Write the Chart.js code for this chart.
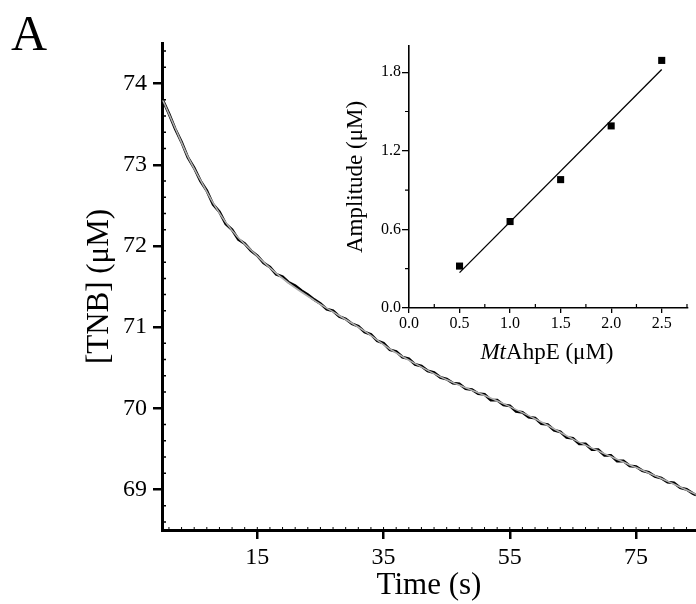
<!DOCTYPE html>
<html>
<head>
<meta charset="utf-8">
<script src="https://cdn.jsdelivr.net/npm/chart.js@4.4.0/dist/chart.umd.min.js"></script>
<style>
  html, body { margin: 0; padding: 0; background: #fff; }
  #wrap { position: relative; width: 696px; height: 604px; overflow: hidden; font-family: "Liberation Serif", "DejaVu Serif", serif; color: #000; }
  #mainChart { position: absolute; left: 0; top: 0; }
  #insetChart { position: absolute; left: 330px; top: 30px; }
  #panel { position: absolute; left: 11px; top: 8px; font-size: 50px; line-height: 50px; }
  #insetXTitle { position: absolute; left: 547px; top: 340px; font-size: 23px; line-height: 23px; transform: translateX(-50%); white-space: nowrap; }
</style>
</head>
<body>
<div id="wrap">
  <canvas id="mainChart" width="696" height="604"></canvas>
  <canvas id="insetChart" width="366" height="345"></canvas>
  <div id="panel">A</div>
  <div id="insetXTitle"><i>Mt</i>AhpE (μM)</div>
</div>
<script>
// main trace: TNB vs time
const timeS = [0, 1, 2, 3, 4, 5, 6, 7, 8, 9, 10, 11, 12, 13, 14, 15, 16, 17, 18, 19,
    20, 21, 22, 23, 24, 25, 26, 27, 28, 29, 30, 31, 32, 33, 34, 35, 36, 37, 38, 39,
    40, 41, 42, 43, 44, 45, 46, 47, 48, 49, 50, 51, 52, 53, 54, 55, 56, 57, 58, 59,
    60, 61, 62, 63, 64, 65, 66, 67, 68, 69, 70, 71, 72, 73, 74, 75, 76, 77, 78, 79,
    80, 81, 82, 83, 84, 84.5];
const tnbTrace = [73.80, 73.63, 73.44, 73.28, 73.09, 72.96, 72.80, 72.68, 72.51, 72.42,
    72.27, 72.20, 72.08, 72.03, 71.94, 71.88, 71.79, 71.74, 71.65, 71.62,
    71.55, 71.51, 71.45, 71.40, 71.34, 71.29, 71.22, 71.20, 71.13, 71.10,
    71.04, 71.01, 70.94, 70.91, 70.83, 70.80, 70.72, 70.70, 70.63, 70.61,
    70.54, 70.52, 70.46, 70.44, 70.38, 70.36, 70.31, 70.30, 70.24, 70.23,
    70.18, 70.17, 70.10, 70.10, 70.04, 70.03, 69.96, 69.95, 69.89, 69.88,
    69.81, 69.80, 69.73, 69.71, 69.64, 69.63, 69.56, 69.56, 69.49, 69.49,
    69.42, 69.42, 69.35, 69.35, 69.29, 69.28, 69.23, 69.21, 69.16, 69.14,
    69.09, 69.08, 69.02, 69.00, 68.95, 68.93];

// fitted curve (grey)
const fitTimes = [0, 2, 4, 6, 8, 10, 12, 14, 17, 20, 24, 28, 32, 36, 40, 45, 50, 55, 60, 65, 70, 75, 80, 84.5];
const tnbFit = [73.80, 73.45, 73.10, 72.81, 72.53, 72.29, 72.10, 71.95, 71.73, 71.54, 71.33, 71.14,
    70.95, 70.73, 70.55, 70.35, 70.19, 70.02, 69.83, 69.62, 69.44, 69.27, 69.10, 68.94];

const xTickValues = [15, 35, 55, 75];
const yTickValues = [69, 70, 71, 72, 73, 74];

// inset: amplitude vs enzyme
const enzymeConc = [0.5, 1.0, 1.5, 2.0, 2.5];
const amplitude = [0.32, 0.66, 0.98, 1.39, 1.89];
const fitLineX = [0.5, 2.5];
const fitLineY = [0.27, 1.82];
const insetXTicks = [0, 0.5, 1.0, 1.5, 2.0, 2.5];
const insetYTicks = [0, 0.6, 1.2, 1.8];

const serif = '"Liberation Serif", "DejaVu Serif", serif';

// minor tick marks, drawn from the scales
const minorTickPlugin = {
    id: 'minorTicks',
    afterDraw(chart, args, opts) {
        const ctx = chart.ctx;
        const area = chart.chartArea;
        ctx.save();
        ctx.strokeStyle = '#000';
        (opts.axes || []).forEach(a => {
            const scale = chart.scales[a.id];
            ctx.lineWidth = a.width;
            ctx.beginPath();
            a.values.forEach(v => {
                const p = scale.getPixelForValue(v);
                if (scale.isHorizontal()) {
                    ctx.moveTo(p, area.bottom);
                    ctx.lineTo(p, area.bottom + a.dir * a.len);
                } else {
                    ctx.moveTo(area.left, p);
                    ctx.lineTo(area.left + a.dir * a.len, p);
                }
            });
            ctx.stroke();
        });
        ctx.restore();
    }
};

function range(start, end, step, skipStep) {
    const out = [];
    for (let v = start; v <= end + 1e-9; v += step) {
        const r = Math.round(v * 1000) / 1000;
        if (skipStep && Math.abs(r / skipStep - Math.round(r / skipStep)) < 1e-6) continue;
        out.push(r);
    }
    return out;
}

// main chart
new Chart(document.getElementById('mainChart'), {
    type: 'scatter',
    data: {
        datasets: [
            {
                label: 'fit',
                data: fitTimes.map((t, i) => ({ x: t, y: tnbFit[i] })),
                showLine: true,
                borderColor: '#b0b0b0',
                borderWidth: 1.6,
                pointRadius: 0,
                cubicInterpolationMode: 'monotone',
                order: 0
            },
            {
                label: 'trace',
                data: timeS.map((t, i) => ({ x: t, y: tnbTrace[i] })),
                showLine: true,
                borderColor: '#000',
                borderWidth: 2.8,
                pointRadius: 0,
                order: 1
            }
        ]
    },
    options: {
        responsive: false,
        animation: false,
        devicePixelRatio: 1,
        layout: { padding: { top: 43, right: 0, bottom: 0, left: 0 } },
        plugins: {
            legend: { display: false },
            tooltip: { enabled: false },
            minorTicks: {
                axes: [
                    { id: 'x', values: range(1, 84, 2), dir: -1, len: 3, width: 1 },
                    { id: 'y', values: range(68.6, 74.4, 0.2, 1), dir: 1, len: 4, width: 1.5 }
                ]
            }
        },
        scales: {
            x: {
                type: 'linear',
                min: -0.1,
                max: 84.5,
                afterBuildTicks: s => { s.ticks = xTickValues.map(v => ({ value: v })); },
                afterFit: s => { s.height = 74; s.paddingLeft = 0; s.paddingRight = 0; },
                border: { color: '#000', width: 3 },
                grid: { drawOnChartArea: false, drawTicks: true, tickLength: 9, color: '#000', lineWidth: 2.5 },
                ticks: { color: '#000', font: { family: serif, size: 24 }, padding: 4, maxRotation: 0, autoSkip: false },
                title: { display: true, text: 'Time (s)', color: '#000', font: { family: serif, size: 31 }, padding: { top: 0, bottom: 0 } }
            },
            y: {
                type: 'linear',
                min: 68.5,
                max: 74.5,
                afterBuildTicks: s => { s.ticks = yTickValues.map(v => ({ value: v })); },
                afterFit: s => { s.width = 162; s.paddingTop = 0; s.paddingBottom = 0; },
                border: { color: '#000', width: 3 },
                grid: { drawOnChartArea: false, drawTicks: true, tickLength: 9, color: '#000', lineWidth: 2.5 },
                ticks: { color: '#000', font: { family: serif, size: 24 }, padding: 6 },
                title: { display: true, text: '[TNB] (μM)', color: '#000', font: { family: serif, size: 31 }, padding: { top: 81, bottom: 0 } }
            }
        }
    },
    plugins: [minorTickPlugin]
});

// inset chart
new Chart(document.getElementById('insetChart'), {
    type: 'scatter',
    data: {
        datasets: [
            {
                label: 'amplitude',
                data: enzymeConc.map((c, i) => ({ x: c, y: amplitude[i] })),
                pointStyle: 'rect',
                pointRadius: 5,
                backgroundColor: '#000',
                borderColor: '#000',
                borderWidth: 0
            },
            {
                label: 'linear fit',
                data: fitLineX.map((c, i) => ({ x: c, y: fitLineY[i] })),
                showLine: true,
                borderColor: '#000',
                borderWidth: 1.3,
                pointRadius: 0
            }
        ]
    },
    options: {
        responsive: false,
        animation: false,
        devicePixelRatio: 1,
        layout: { padding: { top: 16, right: 8, bottom: 0, left: 0 } },
        plugins: {
            legend: { display: false },
            tooltip: { enabled: false },
            minorTicks: {
                axes: [
                    { id: 'x', values: range(0.25, 2.75, 0.5), dir: -1, len: 4, width: 1.2 },
                    { id: 'y', values: [0.3, 0.9, 1.5], dir: -1, len: 4, width: 1.2 }
                ]
            }
        },
        scales: {
            x: {
                type: 'linear',
                min: 0,
                max: 2.76,
                afterBuildTicks: s => { s.ticks = insetXTicks.map(v => ({ value: v })); },
                afterFit: s => { s.height = 67; s.paddingLeft = 0; s.paddingRight = 0; },
                border: { color: '#000', width: 1.6 },
                grid: { drawOnChartArea: false, drawTicks: true, tickLength: 5, color: '#000', lineWidth: 1.3 },
                ticks: { color: '#000', font: { family: serif, size: 16 }, padding: 1, maxRotation: 0, autoSkip: false, callback: v => v.toFixed(1) }
            },
            y: {
                type: 'linear',
                min: 0,
                max: 2.0,
                afterBuildTicks: s => { s.ticks = insetYTicks.map(v => ({ value: v })); },
                afterFit: s => { s.width = 79; s.paddingTop = 0; s.paddingBottom = 0; },
                border: { color: '#000', width: 1.6 },
                grid: { drawOnChartArea: false, drawTicks: true, tickLength: 7, color: '#000', lineWidth: 1.3 },
                ticks: { color: '#000', font: { family: serif, size: 16 }, padding: 1, callback: v => v.toFixed(1) },
                title: { display: true, text: 'Amplitude (μM)', color: '#000', font: { family: serif, size: 23 }, padding: { top: 12, bottom: 0 } }
            }
        }
    },
    plugins: [minorTickPlugin]
});
</script>
</body>
</html>
